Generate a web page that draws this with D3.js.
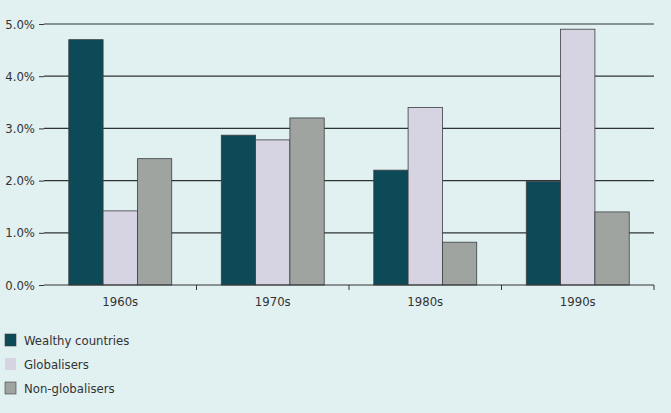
<!DOCTYPE html>
<html><head><meta charset="utf-8">
<script src="https://cdn.jsdelivr.net/npm/d3@7"></script>
<style>
html,body{margin:0;padding:0;background:#e1f0f1;}
svg{display:block;}
text{font-family:"Liberation Sans Narrow","DejaVu Sans Condensed","Roboto",sans-serif;fill:#333;}
</style></head>
<body>
<script>
const decades = ["1960s","1970s","1980s","1990s"];
const seriesNames = ["Wealthy countries","Globalisers","Non-globalisers"];
const wealthy = [4.7, 2.87, 2.2, 1.98];
const globalisers = [1.42, 2.78, 3.4, 4.9];
const nonGlobalisers = [2.42, 3.2, 0.82, 1.4];
const yTicks = [0,1,2,3,4,5];
const colors = ["#0d4a58","#d6d4e3","#a0a4a1"];

const W=671,H=413;
const svg=d3.select("body").append("svg").attr("width",W).attr("height",H);
svg.append("rect").attr("width",W).attr("height",H).attr("fill","#e1f0f1");

const x0=44,x1=654,yTop=24,yBot=285;
const x=d3.scaleBand().domain(decades).range([x0,x1]).paddingInner(0.325).paddingOuter(0.1625);
const xs=d3.scaleBand().domain(seriesNames).range([0,x.bandwidth()]);
const y=d3.scaleLinear().domain([0,5]).range([yBot,yTop]);

// gridlines
svg.append("g").selectAll("line").data(yTicks.filter(d=>d>0)).join("line")
  .attr("x1",x0).attr("x2",x1).attr("y1",d=>y(d)).attr("y2",d=>y(d))
  .attr("stroke","#2e3436").attr("stroke-width",1.2);

// y axis
const yAxis=d3.axisLeft(y).tickValues(yTicks).tickFormat(d=>d.toFixed(1)+"%").tickSize(5).tickPadding(3);
const ga=svg.append("g").attr("transform",`translate(${x0},0)`).call(yAxis);
ga.select(".domain").remove();
ga.selectAll("line").attr("stroke","#333");
ga.selectAll("text").style("font-size","13px").attr("fill","#333").attr("dx","-1");

// bars
const data=[wealthy,globalisers,nonGlobalisers];
const groups=svg.append("g").selectAll("g").data(decades).join("g")
  .attr("transform",d=>`translate(${x(d)},0)`);
groups.selectAll("rect").data((d,i)=>seriesNames.map((s,j)=>({s,j,v:data[j][i]}))).join("rect")
  .attr("x",d=>xs(d.s)).attr("width",xs.bandwidth())
  .attr("y",d=>y(d.v)).attr("height",d=>yBot-y(d.v))
  .attr("fill",d=>colors[d.j]).attr("stroke","#3a3f40").attr("stroke-width",0.8);

// x axis
svg.append("line").attr("x1",x0).attr("x2",x1).attr("y1",yBot).attr("y2",yBot).attr("stroke","#333").attr("stroke-width",1.2);
const edges=[...decades.map(d=>x(d)-x.step()*x.paddingInner()/2), x1];
svg.append("g").selectAll("line").data(edges.slice(1)).join("line")
  .attr("x1",d=>d).attr("x2",d=>d).attr("y1",yBot).attr("y2",yBot+5).attr("stroke","#333");
svg.append("g").selectAll("text").data(decades).join("text")
  .attr("x",d=>x(d)+x.bandwidth()/2).attr("y",yBot+21).attr("text-anchor","middle")
  .style("font-size","13px").text(d=>d);

// legend
const lg=svg.append("g").selectAll("g").data(seriesNames).join("g")
  .attr("transform",(d,i)=>`translate(5,${334+i*24})`);
lg.append("rect").attr("width",11).attr("height",12).attr("fill",(d,i)=>colors[i]).attr("stroke",(d,i)=>i===1?"none":"#3a3f40").attr("stroke-width",0.6);
lg.append("text").attr("x",19).attr("y",10.5).style("font-size","13px").text(d=>d);
</script>
</body></html>
